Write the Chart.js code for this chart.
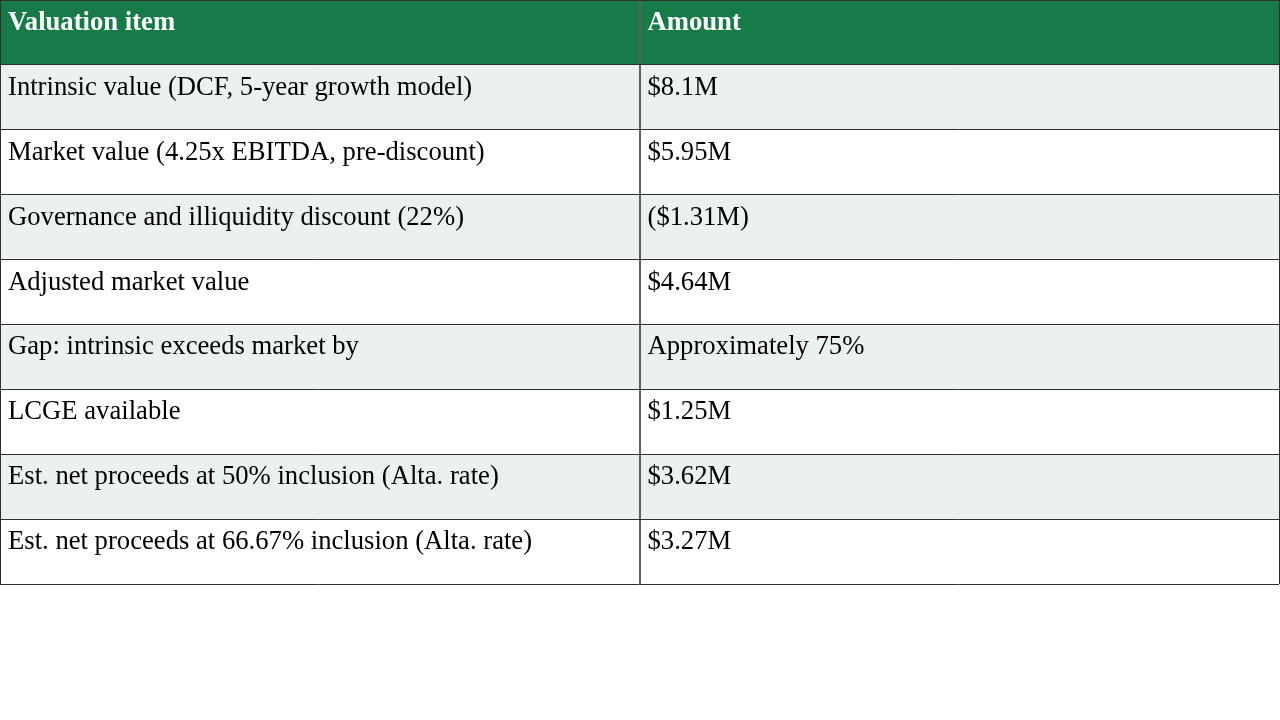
<!DOCTYPE html>
<html>
<head>
<meta charset="utf-8">
<script src="https://cdn.jsdelivr.net/npm/chart.js@4/dist/chart.umd.min.js"></script>
<style>
    html, body { margin: 0; padding: 0; background: #ffffff; }
    #wrap { width: 1280px; height: 720px; }
</style>
</head>
<body>
<div id="wrap"><canvas id="tableChart" width="1280" height="720"></canvas></div>
<script>
// table content
const headers = ["Valuation item", "Amount"];
const items = [
    "Intrinsic value (DCF, 5-year growth model)",
    "Market value (4.25x EBITDA, pre-discount)",
    "Governance and illiquidity discount (22%)",
    "Adjusted market value",
    "Gap: intrinsic exceeds market by",
    "LCGE available",
    "Est. net proceeds at 50% inclusion (Alta. rate)",
    "Est. net proceeds at 66.67% inclusion (Alta. rate)",
];
const amounts = [
    "$8.1M",
    "$5.95M",
    "($1.31M)",
    "$4.64M",
    "Approximately 75%",
    "$1.25M",
    "$3.62M",
    "$3.27M",
];

const headerColor = "#167a49";
const stripeColor = "#ebf1ef";

const rowLabels = ["header"].concat(items.map((_, i) => "row" + i));
const rowColors = rowLabels.map((_, i) =>
    i === 0 ? headerColor : i % 2 === 1 ? stripeColor : "#ffffff"
);

// every row spans both columns: [0,1] and [1,2]
const leftCells = rowLabels.map(() => [0, 1]);
const rightCells = rowLabels.map(() => [1, 2]);
const cellText = [headers].concat(items.map((t, i) => [t, amounts[i]]));

const cellTextPlugin = {
    id: "cellText",
    afterDraw(chart) {
        const ctx = chart.ctx;
        const xs = chart.scales.x;
        const ys = chart.scales.y;
        const rowH = Math.abs(ys.getPixelForValue(1) - ys.getPixelForValue(0));
        ctx.save();
        ctx.textBaseline = "alphabetic";
        ctx.textAlign = "left";
        cellText.forEach((row, r) => {
            const top = ys.getPixelForValue(r) - rowH / 2;
            row.forEach((txt, c) => {
                ctx.font = r === 0
                    ? "bold 26.67px 'Liberation Serif'"
                    : "26.67px 'Liberation Serif'";
                ctx.fillStyle = r === 0 ? "#ffffff" : "#000000";
                ctx.fillText(txt, xs.getPixelForValue(c) + 8, top + 30);
            });
        });
        ctx.restore();
    },
};

new Chart(document.getElementById("tableChart").getContext("2d"), {
    type: "bar",
    data: {
        labels: rowLabels,
        datasets: [
            {
                label: headers[0],
                data: leftCells,
                backgroundColor: rowColors,
                borderWidth: 0,
                categoryPercentage: 1,
                barPercentage: 1,
                grouped: false,
            },
            {
                label: headers[1],
                data: rightCells,
                backgroundColor: rowColors,
                borderWidth: 0,
                categoryPercentage: 1,
                barPercentage: 1,
                grouped: false,
            },
        ],
    },
    options: {
        indexAxis: "y",
        responsive: false,
        animation: false,
        devicePixelRatio: 1,
        layout: { padding: { top: 0, left: 0, right: 1, bottom: 136 } },
        plugins: {
            legend: { display: false },
            tooltip: { enabled: false },
        },
        scales: {
            x: {
                type: "linear",
                min: 0,
                max: 2,
                ticks: { display: false, stepSize: 1 },
                border: { display: false },
                grid: {
                    z: 1,
                    drawTicks: false,
                    color: (c) => (c.index === 1 ? "#5f5f5f" : "#2f2f2f"),
                    lineWidth: (c) => (c.index === 1 ? 2 : 1),
                },
            },
            y: {
                type: "category",
                offset: true,
                ticks: { display: false },
                border: { display: false },
                grid: {
                    z: 1,
                    offset: true,
                    drawTicks: false,
                    color: "#2f2f2f",
                    lineWidth: 1,
                },
            },
        },
    },
    plugins: [cellTextPlugin],
});
</script>
</body>
</html>
